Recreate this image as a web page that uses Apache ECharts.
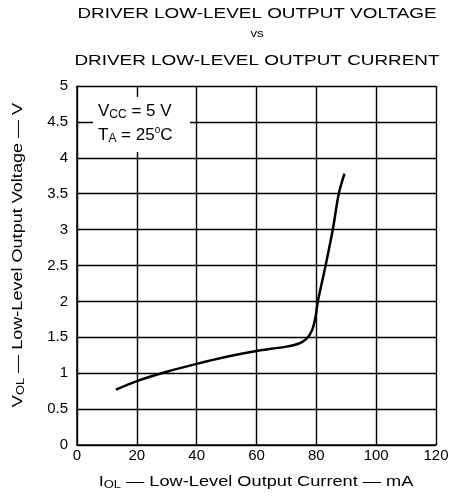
<!DOCTYPE html>
<html><head><meta charset="utf-8">
<script src="https://cdn.jsdelivr.net/npm/echarts@6/dist/echarts.min.js"></script>
<style>html,body{margin:0;padding:0;background:#fff}#c{width:460px;height:501px}</style>
</head><body><div id="c"></div>
<script>
var current = [13, 20, 30, 40, 50, 60, 70, 74, 76.5, 78.6, 79.8, 80.5, 83.1, 85.5, 87.5, 89.4];
var voltage = [0.77, 0.89, 1.02, 1.13, 1.23, 1.31, 1.37, 1.41, 1.47, 1.6, 1.8, 2.0, 2.5, 3.0, 3.5, 3.78];
var titleLines = ['DRIVER LOW-LEVEL OUTPUT VOLTAGE', 'vs', 'DRIVER LOW-LEVEL OUTPUT CURRENT'];
var xName = '{m|I}{s|OL}{m| — Low-Level Output Current — mA}';
var yName = '{m|V}{s|OL}{m| — Low-Level Output Voltage — V}';
var note1 = '{m|V}{s|CC}{m| = 5 V}';
var note2 = '{m|T}{s|A}{m| = 25}{u|o}{m|C}';

var FONT = 'Liberation Sans';
var chart = echarts.init(document.getElementById('c'), null, {renderer: 'canvas'});
var pts = current.map(function (c, i) { return [c, voltage[i]]; });

var nameRich = {
  m: {fontSize: 14, fontFamily: FONT, fill: '#000'},
  s: {fontSize: 10, fontFamily: FONT, fill: '#000', padding: [7, 0, 0, 0]}
};
var noteRich = {
  m: {fontSize: 17, fontFamily: FONT, fill: '#000'},
  s: {fontSize: 12, fontFamily: FONT, fill: '#000', padding: [8, 0, 0, 0]},
  u: {fontSize: 10, fontFamily: FONT, fill: '#000', padding: [0, 0, 10, 0]}
};
function title(t, y, size, sx) {
  return {type: 'text', x: 257, y: y, scaleX: sx, style: {text: t, fontSize: size, fontFamily: FONT, fill: '#000', textAlign: 'center', textVerticalAlign: 'middle'}};
}

chart.setOption({
  animation: false,
  backgroundColor: '#fff',
  grid: {left: 77, right: 24, top: 86, bottom: 56},
  graphic: [
    title(titleLines[0], 14, 15, 1.26),
    title(titleLines[1], 34, 11, 1.2),
    title(titleLines[2], 61, 15, 1.26),
    {type: 'text', x: 256, y: 482, scaleX: 1.3, style: {text: xName, rich: nameRich, textAlign: 'center', textVerticalAlign: 'middle'}},
    {type: 'text', x: 18, y: 255, rotation: Math.PI / 2, scaleX: 1.29, style: {text: yName, rich: nameRich, textAlign: 'center', textVerticalAlign: 'middle'}},
    {type: 'rect', left: 93, top: 97, z: 100, shape: {width: 97, height: 55}, style: {fill: '#fff'}},
    {type: 'text', x: 98, y: 111, z: 101, style: {rich: noteRich, text: note1, textVerticalAlign: 'middle'}},
    {type: 'text', x: 98, y: 135, z: 101, style: {rich: noteRich, text: note2, textVerticalAlign: 'middle'}}
  ],
  xAxis: {
    type: 'value', min: 0, max: 120, interval: 20,
    axisLine: {show: true, lineStyle: {color: '#000', width: 1.5}},
    axisTick: {show: false},
    splitLine: {show: true, lineStyle: {color: '#000', width: 1.4}},
    axisLabel: {fontSize: 15, fontFamily: FONT, color: '#000', margin: 3}
  },
  yAxis: {
    type: 'value', min: 0, max: 5, interval: 0.5,
    axisLine: {show: true, lineStyle: {color: '#000', width: 1.5}},
    axisTick: {show: false},
    splitLine: {show: true, lineStyle: {color: '#000', width: 1.4}},
    axisLabel: {fontSize: 15, fontFamily: FONT, color: '#000', margin: 9}
  },
  series: [{
    type: 'line', data: pts, showSymbol: false, smooth: 0.3,
    lineStyle: {color: '#000', width: 2.5}, z: 5
  }]
});
</script></body></html>
